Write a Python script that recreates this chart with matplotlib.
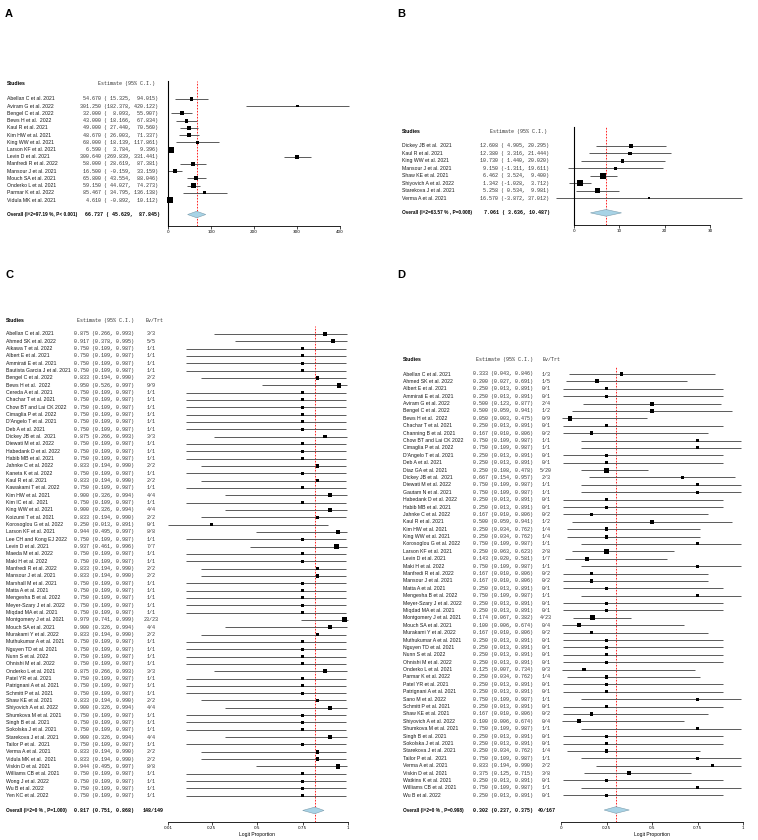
import numpy as np
import matplotlib
matplotlib.use("Agg")
import matplotlib.pyplot as plt
from matplotlib.patches import Polygon
from matplotlib.transforms import blended_transform_factory

W, H, DPI = 758, 840, 100

# ---- panel A : continuous outcome ----
a_studies = ["Abellan C et al. 2021", "Aviram G et al. 2022", "Bengel C et al. 2022",
             "Bews H et al.  2022", "Kaul R et al. 2021", "Kim HW et al. 2021",
             "King WW et al. 2021", "Larson KF et al. 2021", "Levin D et al. 2021",
             "Manfredi R et al. 2022", "Mansour J et al. 2021", "Mouch SA et al. 2021",
             "Onderko L et al. 2021", "Parmar K et al. 2022", "Vidula MK et al. 2021"]
a_est = [54.670, 301.250, 32.000, 43.000, 49.000, 48.670, 68.000, 6.590, 300.640,
         58.000, 16.500, 65.800, 59.150, 85.467, 4.610]
a_lo = [15.325, 182.378, 8.093, 18.166, 27.440, 26.003, 18.139, 3.784, 269.839,
        28.619, -0.159, 43.554, 44.027, 34.795, -0.892]
a_hi = [94.015, 420.122, 55.907, 67.834, 70.560, 71.337, 117.861, 9.396, 331.441,
        87.381, 33.159, 88.046, 74.273, 136.138, 10.112]
a_pooled = [66.737, 45.629, 87.845]
a_overall = "Overall (I^2=97.19 %, P< 0.001)"
a_ticks = [0, 100, 200, 300, 400]

# ---- panel B ----
b_studies = ["Dickey JB et al.  2021", "Kaul R et al. 2021", "King WW et al. 2021",
             "Mansour J et al. 2021", "Shaw KE et al. 2021", "Shiyovich A et al. 2022",
             "Starekova J et al. 2021", "Verma A et al. 2021"]
b_est = [12.608, 12.380, 10.730, 9.150, 6.462, 1.342, 5.258, 16.570]
b_lo = [4.905, 3.316, 1.440, -1.311, 3.524, -1.028, 0.534, -3.872]
b_hi = [20.295, 21.444, 20.020, 19.611, 9.400, 3.712, 9.981, 37.012]
b_pooled = [7.061, 3.636, 10.487]
b_overall = "Overall (I^2=63.57 % , P=0.008)"
b_ticks = [0, 10, 20, 30]

# ---- panel C : proportions ----
c_studies = ["Abellan C et al. 2021", "Ahmed SK et al. 2022", "Aikawa T et al. 2022",
             "Albert E et al. 2021", "Ammirati E et al. 2021", "Bautista Garcia J et al. 2021",
             "Bengel C et al. 2022", "Bews H et al.  2022", "Cereda A et al. 2021",
             "Chachar T et al. 2021", "Chow BT and Lai CK 2022", "Cimaglia P et al. 2022",
             "D'Angelo T et al. 2021", "Deb A et al. 2021", "Dickey JB et al.  2021",
             "Diewati M et al. 2022", "Habedank D et al. 2022", "Habib MB et al. 2021",
             "Jahnke C et al. 2022", "Kaneta K et al. 2022", "Kaul R et al. 2021",
             "Kawakami T et al. 2022", "Kim HW et al. 2021", "Kim IC et al.  2021",
             "King WW et al. 2021", "Koizumi T et al. 2021", "Korosoglou G et al. 2022",
             "Larson KF et al. 2021", "Lee CH and Kong EJ 2022", "Levin D et al. 2021",
             "Maeda M et al. 2022", "Maki H et al. 2022", "Manfredi R et al. 2022",
             "Mansour J et al. 2021", "Marshall M et al. 2021", "Matta A et al. 2021",
             "Mengesha B et al. 2022", "Meyer-Szary J et al. 2022", "Miqdad MA et al. 2021",
             "Montgomery J et al. 2021", "Mouch SA et al. 2021", "Murakami Y et al. 2022",
             "Muthukumar A et al. 2021", "Nguyen TD et al. 2021", "Nunn S et al. 2022",
             "Ohnishi M et al. 2022", "Onderko L et al. 2021", "Patel YR et al. 2021",
             "Patrignani A et al. 2021", "Schmitt P et al. 2021", "Shaw KE et al. 2021",
             "Shiyovich A et al. 2022", "Shumkova M et al. 2021", "Singh B et al. 2021",
             "Sokolska J et al. 2021", "Starekova J et al. 2021", "Tailor P et al.  2021",
             "Verma A et al. 2021", "Vidula MK et al.  2021", "Viskin D et al. 2021",
             "Williams CB et al. 2021", "Wong J et al. 2022", "Wu B et al. 2022",
             "Yen KC et al. 2022"]
c_est = [0.875, 0.917, 0.750, 0.750, 0.750, 0.750, 0.833, 0.950,
         0.750, 0.750, 0.750, 0.750, 0.750, 0.750, 0.875, 0.750,
         0.750, 0.750, 0.833, 0.750, 0.833, 0.750, 0.900, 0.750,
         0.900, 0.833, 0.250, 0.944, 0.750, 0.937, 0.750, 0.750,
         0.833, 0.833, 0.750, 0.750, 0.750, 0.750, 0.750, 0.979,
         0.900, 0.833, 0.750, 0.750, 0.750, 0.750, 0.875, 0.750,
         0.750, 0.750, 0.833, 0.900, 0.750, 0.750, 0.750, 0.900,
         0.750, 0.833, 0.833, 0.944, 0.750, 0.750, 0.750, 0.750]
c_lo = [0.266, 0.378, 0.109, 0.109, 0.109, 0.109, 0.194, 0.526,
        0.109, 0.109, 0.109, 0.109, 0.109, 0.109, 0.266, 0.109,
        0.109, 0.109, 0.194, 0.109, 0.194, 0.109, 0.326, 0.109,
        0.326, 0.194, 0.013, 0.495, 0.109, 0.461, 0.109, 0.109,
        0.194, 0.194, 0.109, 0.109, 0.109, 0.109, 0.109, 0.741,
        0.326, 0.194, 0.109, 0.109, 0.109, 0.109, 0.266, 0.109,
        0.109, 0.109, 0.194, 0.326, 0.109, 0.109, 0.109, 0.326,
        0.109, 0.194, 0.194, 0.495, 0.109, 0.109, 0.109, 0.109]
c_hi = [0.993, 0.995, 0.987, 0.987, 0.987, 0.987, 0.990, 0.997,
        0.987, 0.987, 0.987, 0.987, 0.987, 0.987, 0.993, 0.987,
        0.987, 0.987, 0.990, 0.987, 0.990, 0.987, 0.994, 0.987,
        0.994, 0.990, 0.891, 0.997, 0.987, 0.996, 0.987, 0.987,
        0.990, 0.990, 0.987, 0.987, 0.987, 0.987, 0.987, 0.999,
        0.994, 0.990, 0.987, 0.987, 0.987, 0.987, 0.993, 0.987,
        0.987, 0.987, 0.990, 0.994, 0.987, 0.987, 0.987, 0.994,
        0.987, 0.990, 0.990, 0.997, 0.987, 0.987, 0.987, 0.987]
c_events = [3, 5, 1, 1, 1, 1, 2, 9, 1, 1, 1, 1, 1, 1, 3, 1,
            1, 1, 2, 1, 2, 1, 4, 1, 4, 2, 0, 8, 1, 7, 1, 1,
            2, 2, 1, 1, 1, 1, 1, 23, 4, 2, 1, 1, 1, 1, 3, 1,
            1, 1, 2, 4, 1, 1, 1, 4, 1, 2, 2, 8, 1, 1, 1, 1]
c_total = [3, 5, 1, 1, 1, 1, 2, 9, 1, 1, 1, 1, 1, 1, 3, 1,
           1, 1, 2, 1, 2, 1, 4, 1, 4, 2, 1, 8, 1, 7, 1, 1,
           2, 2, 1, 1, 1, 1, 1, 23, 4, 2, 1, 1, 1, 1, 3, 1,
           1, 1, 2, 4, 1, 1, 1, 4, 1, 2, 2, 8, 1, 1, 1, 1]
c_pooled = [0.817, 0.751, 0.868]
c_evtrt = "148/149"
c_overall = "Overall (I^2=0 % , P=1.000)"
c_ticks = [0.01, 0.25, 0.5, 0.75, 1]
c_ticklabels = ["0.01", "0.25", "0.5", "0.75", "1"]

# ---- panel D ----
d_studies = ["Abellan C et al. 2021", "Ahmed SK et al. 2022", "Albert E et al. 2021",
             "Ammirati E et al. 2021", "Aviram G et al. 2022", "Bengel C et al. 2022",
             "Bews H et al.  2022", "Chachar T et al. 2021", "Channing B et al. 2021",
             "Chow BT and Lai CK 2022", "Cimaglia P et al. 2022", "D'Angelo T et al. 2021",
             "Deb A et al. 2021", "Diaz GA et al. 2021", "Dickey JB et al.  2021",
             "Diewati M et al. 2022", "Gautam N et al. 2021", "Habedank D et al. 2022",
             "Habib MB et al. 2021", "Jahnke C et al. 2022", "Kaul R et al. 2021",
             "Kim HW et al. 2021", "King WW et al. 2021", "Korosoglou G et al. 2022",
             "Larson KF et al. 2021", "Levin D et al. 2021", "Maki H et al. 2022",
             "Manfredi R et al. 2022", "Mansour J et al. 2021", "Matta A et al. 2021",
             "Mengesha B et al. 2022", "Meyer-Szary J et al. 2022", "Miqdad MA et al. 2021",
             "Montgomery J et al. 2021", "Mouch SA et al. 2021", "Murakami Y et al. 2022",
             "Muthukumar A et al. 2021", "Nguyen TD et al. 2021", "Nunn S et al. 2022",
             "Ohnishi M et al. 2022", "Onderko L et al. 2021", "Parmar K et al. 2022",
             "Patel YR et al. 2021", "Patrignani A et al. 2021", "Sano M et al. 2022",
             "Schmitt P et al. 2021", "Shaw KE et al. 2021", "Shiyovich A et al. 2022",
             "Shumkova M et al. 2021", "Singh B et al. 2021", "Sokolska J et al. 2021",
             "Starekova J et al. 2021", "Tailor P et al.  2021", "Verma A et al. 2021",
             "Viskin D et al. 2021", "Watkins K et al. 2021", "Williams CB et al. 2021",
             "Wu B et al. 2022"]
d_est = [0.333, 0.200, 0.250, 0.250, 0.500, 0.500, 0.050, 0.250, 0.167, 0.750, 0.750,
         0.250, 0.250, 0.250, 0.667, 0.750, 0.750, 0.250, 0.250, 0.167, 0.500,
         0.250, 0.250, 0.750, 0.250, 0.143, 0.750, 0.167, 0.167, 0.250, 0.750,
         0.250, 0.250, 0.174, 0.100, 0.167, 0.250, 0.250, 0.250, 0.250, 0.125, 0.250,
         0.250, 0.250, 0.750, 0.250, 0.167, 0.100, 0.750, 0.250, 0.250, 0.250,
         0.750, 0.833, 0.375, 0.250, 0.750, 0.250]
d_lo = [0.043, 0.027, 0.013, 0.013, 0.123, 0.059, 0.003, 0.013, 0.010, 0.109, 0.109,
        0.013, 0.013, 0.108, 0.154, 0.109, 0.109, 0.013, 0.013, 0.010, 0.059,
        0.034, 0.034, 0.109, 0.063, 0.020, 0.109, 0.010, 0.010, 0.013, 0.109,
        0.013, 0.013, 0.067, 0.006, 0.010, 0.013, 0.013, 0.013, 0.013, 0.007, 0.034,
        0.013, 0.013, 0.109, 0.013, 0.010, 0.006, 0.109, 0.013, 0.013, 0.034,
        0.109, 0.194, 0.125, 0.013, 0.109, 0.013]
d_hi = [0.846, 0.691, 0.891, 0.891, 0.877, 0.941, 0.475, 0.891, 0.806, 0.987, 0.987,
        0.891, 0.891, 0.478, 0.957, 0.987, 0.987, 0.891, 0.891, 0.806, 0.941,
        0.762, 0.762, 0.987, 0.623, 0.581, 0.987, 0.806, 0.806, 0.891, 0.987,
        0.891, 0.891, 0.382, 0.674, 0.806, 0.891, 0.891, 0.891, 0.891, 0.734, 0.762,
        0.891, 0.891, 0.987, 0.891, 0.806, 0.674, 0.987, 0.891, 0.891, 0.762,
        0.987, 0.990, 0.715, 0.891, 0.987, 0.891]
d_events = [1, 1, 0, 0, 2, 1, 0, 0, 0, 1, 1, 0, 0, 5, 2, 1, 1, 0, 0, 0, 1,
            1, 1, 1, 2, 1, 1, 0, 0, 0, 1, 0, 0, 4, 0, 0, 0, 0, 0, 0, 0, 1,
            0, 0, 1, 0, 0, 0, 1, 0, 0, 1, 1, 2, 3, 0, 1, 0]
d_total = [3, 5, 1, 1, 4, 2, 9, 1, 2, 1, 1, 1, 1, 20, 3, 1, 1, 1, 1, 2, 2,
           4, 4, 1, 8, 7, 1, 2, 2, 1, 1, 1, 1, 23, 4, 2, 1, 1, 1, 1, 3, 4,
           1, 1, 1, 1, 2, 4, 1, 1, 1, 4, 1, 2, 8, 1, 1, 1]
d_pooled = [0.302, 0.237, 0.375]
d_evtrt = "40/167"
d_overall = "Overall (I^2=0 % , P=0.998)"
d_ticks = [0, 0.25, 0.5, 0.75, 1]
d_ticklabels = ["0", "0.25", "0.5", "0.75", "1"]

SANS = "Liberation Sans"
MONO = "Liberation Mono"
NAME_FS = 3.7
OVER_FS = 3.45
MONO_FS = 3.65
CI_COL = "#5a5a5a"

fig = plt.figure(figsize=(W / DPI, H / DPI), dpi=DPI)


def add_panel(zero, scale, xlim, top, bottom, row0, dy):
    # pixel box -> axes; y data = row index
    left = zero + xlim[0] * scale
    right = zero + xlim[1] * scale
    ax = fig.add_axes([left / W, 1 - bottom / H, (right - left) / W, (bottom - top) / H])
    ax.set_xlim(*xlim)
    ax.set_ylim((bottom - row0) / dy, (top - row0) / dy)
    ax.patch.set_visible(False)
    return ax


def put(ax, x, y, s, **kw):
    tr = blended_transform_factory(fig.transFigure, ax.transData)
    ax.text(x / W, y, s, transform=tr, va="center", **kw)


def draw(ax, est, lo, hi, sides):
    idx = np.arange(len(est))
    ax.hlines(idx, lo, hi, color=CI_COL, lw=0.7, zorder=2)
    ax.scatter(est, idx, marker="s", s=(np.asarray(sides) * 0.72) ** 2,
               c="black", linewidths=0, zorder=3)


def pooled(ax, y, p):
    e, l, h = p
    ax.add_patch(Polygon([[l, y], [e, y - 0.45], [h, y], [e, y + 0.45]], closed=True,
                         fc="#a8d3e6", ec="#7d9eae", lw=0.4, zorder=3))
    ax.axvline(e, color="red", lw=0.6, ls=(0, (2, 1.6)), zorder=1)


def style(ax, ticks, labels, vline):
    ax.spines["top"].set_visible(False)
    ax.spines["right"].set_visible(False)
    if vline:
        ax.spines["left"].set_position(("data", 0))
        ax.spines["left"].set_linewidth(0.8)
    else:
        ax.spines["left"].set_visible(False)
    ax.set_yticks([])
    ax.set_xticks(ticks)
    ax.set_xticklabels(labels)
    ax.spines["bottom"].set_bounds(ticks[0], ticks[-1])
    ax.spines["bottom"].set_linewidth(0.6)
    ax.tick_params(axis="x", length=2, width=0.5, labelsize=3, pad=1.2)


def table(ax, x0, studies, cols, overall, overall_cols, hdr_y, over_y, headers):
    put(ax, x0, hdr_y, "Studies", fontsize=NAME_FS, family=SANS, weight="bold")
    for (x, s, ha) in headers:
        put(ax, x, hdr_y, s, fontsize=MONO_FS, family=MONO, color="#333333", ha=ha)
    for i, name in enumerate(studies):
        put(ax, x0, i, name, fontsize=NAME_FS, family=SANS, color="#1a1a1a")
        for (x, vals, ha) in cols:
            put(ax, x, i, vals[i], fontsize=MONO_FS, family=MONO, color="#333333", ha=ha)
    put(ax, x0, over_y, overall, fontsize=OVER_FS, family=SANS, weight="bold")
    for (x, s, ha) in overall_cols:
        put(ax, x, over_y, s, fontsize=MONO_FS, family=MONO, weight="bold", ha=ha)


def ci_text(est, lo, hi, w):
    return [f"{e:{w}.3f} ({l:{w}.3f}, {h:{w}.3f})" for e, l, h in zip(est, lo, hi)]


def weight_sides(lo, hi, base, k):
    se = (np.asarray(hi) - np.asarray(lo)) / 3.92
    w = 1 / se ** 2
    return np.clip(base + k * np.log10(w / w.max()), 1.2, None)


# ---------- A ----------
axA = add_panel(168, 0.43, (-2, 430), 81, 226, 99, 7.22)
draw(axA, a_est, a_lo, a_hi, weight_sides(a_lo, a_hi, 6, 1.1))
pooled(axA, 16, a_pooled)
style(axA, a_ticks, [str(t) for t in a_ticks], True)
table(axA, 7, a_studies, [(80, ci_text(a_est, a_lo, a_hi, 7), "left")],
      a_overall, [(82, ci_text(*[[v] for v in a_pooled], 7)[0], "left")],
      -2.2, 16, [(98, "Estimate (95% C.I.)", "left")])

# ---------- B ----------
axB = add_panel(574, 4.53, (-4.5, 38), 127, 225, 146, 7.43)
draw(axB, b_est, b_lo, b_hi, weight_sides(b_lo, b_hi, 6, 2.0))
pooled(axB, 9, b_pooled)
style(axB, b_ticks, [str(t) for t in b_ticks], True)
table(axB, 402, b_studies, [(480, ci_text(b_est, b_lo, b_hi, 6), "left")],
      b_overall, [(481, ci_text(*[[v] for v in b_pooled], 6)[0], "left")],
      -2.0, 9, [(490, "Estimate (95% C.I.)", "left")])

# ---------- C ----------
axC = add_panel(166, 182, (-0.01, 1.01), 326, 822, 334, 7.33)
draw(axC, c_est, c_lo, c_hi, 3 + 1.5 * np.log10(c_total))
pooled(axC, 65, c_pooled)
style(axC, c_ticks, c_ticklabels, False)
axC.set_xlabel("Logit Proportion", fontsize=3.6, family=SANS, labelpad=1)
table(axC, 6, c_studies,
      [(74, ci_text(c_est, c_lo, c_hi, 5), "left"),
       (151, [f"{e}/{t}" for e, t in zip(c_events, c_total)], "center")],
      c_overall, [(74, ci_text(*[[v] for v in c_pooled], 5)[0], "left"),
                  (153, c_evtrt, "center")],
      -1.9, 65, [(77, "Estimate (95% C.I.)", "left"), (155, "Ev/Trt", "center")])

# ---------- D ----------
axD = add_panel(561, 182, (-0.01, 1.01), 366, 822, 374, 7.39)
draw(axD, d_est, d_lo, d_hi, 3 + 1.5 * np.log10(d_total))
pooled(axD, 59, d_pooled)
style(axD, d_ticks, d_ticklabels, False)
axD.set_xlabel("Logit Proportion", fontsize=3.6, family=SANS, labelpad=1)
table(axD, 403, d_studies,
      [(473, ci_text(d_est, d_lo, d_hi, 5), "left"),
       (546, [f"{e}/{t}" for e, t in zip(d_events, d_total)], "center")],
      d_overall, [(473, ci_text(*[[v] for v in d_pooled], 5)[0], "left"),
                  (547, d_evtrt, "center")],
      -1.9, 59, [(476, "Estimate (95% C.I.)", "left"), (552, "Ev/Trt", "center")])

# panel letters
for lab, x, y in [("A", 9, 14), ("B", 401, 14), ("C", 9, 275), ("D", 401, 275)]:
    fig.text(x / W, 1 - y / H, lab, fontsize=8, family=SANS, weight="bold",
             ha="center", va="center")

fig.savefig("out.png", dpi=DPI)
